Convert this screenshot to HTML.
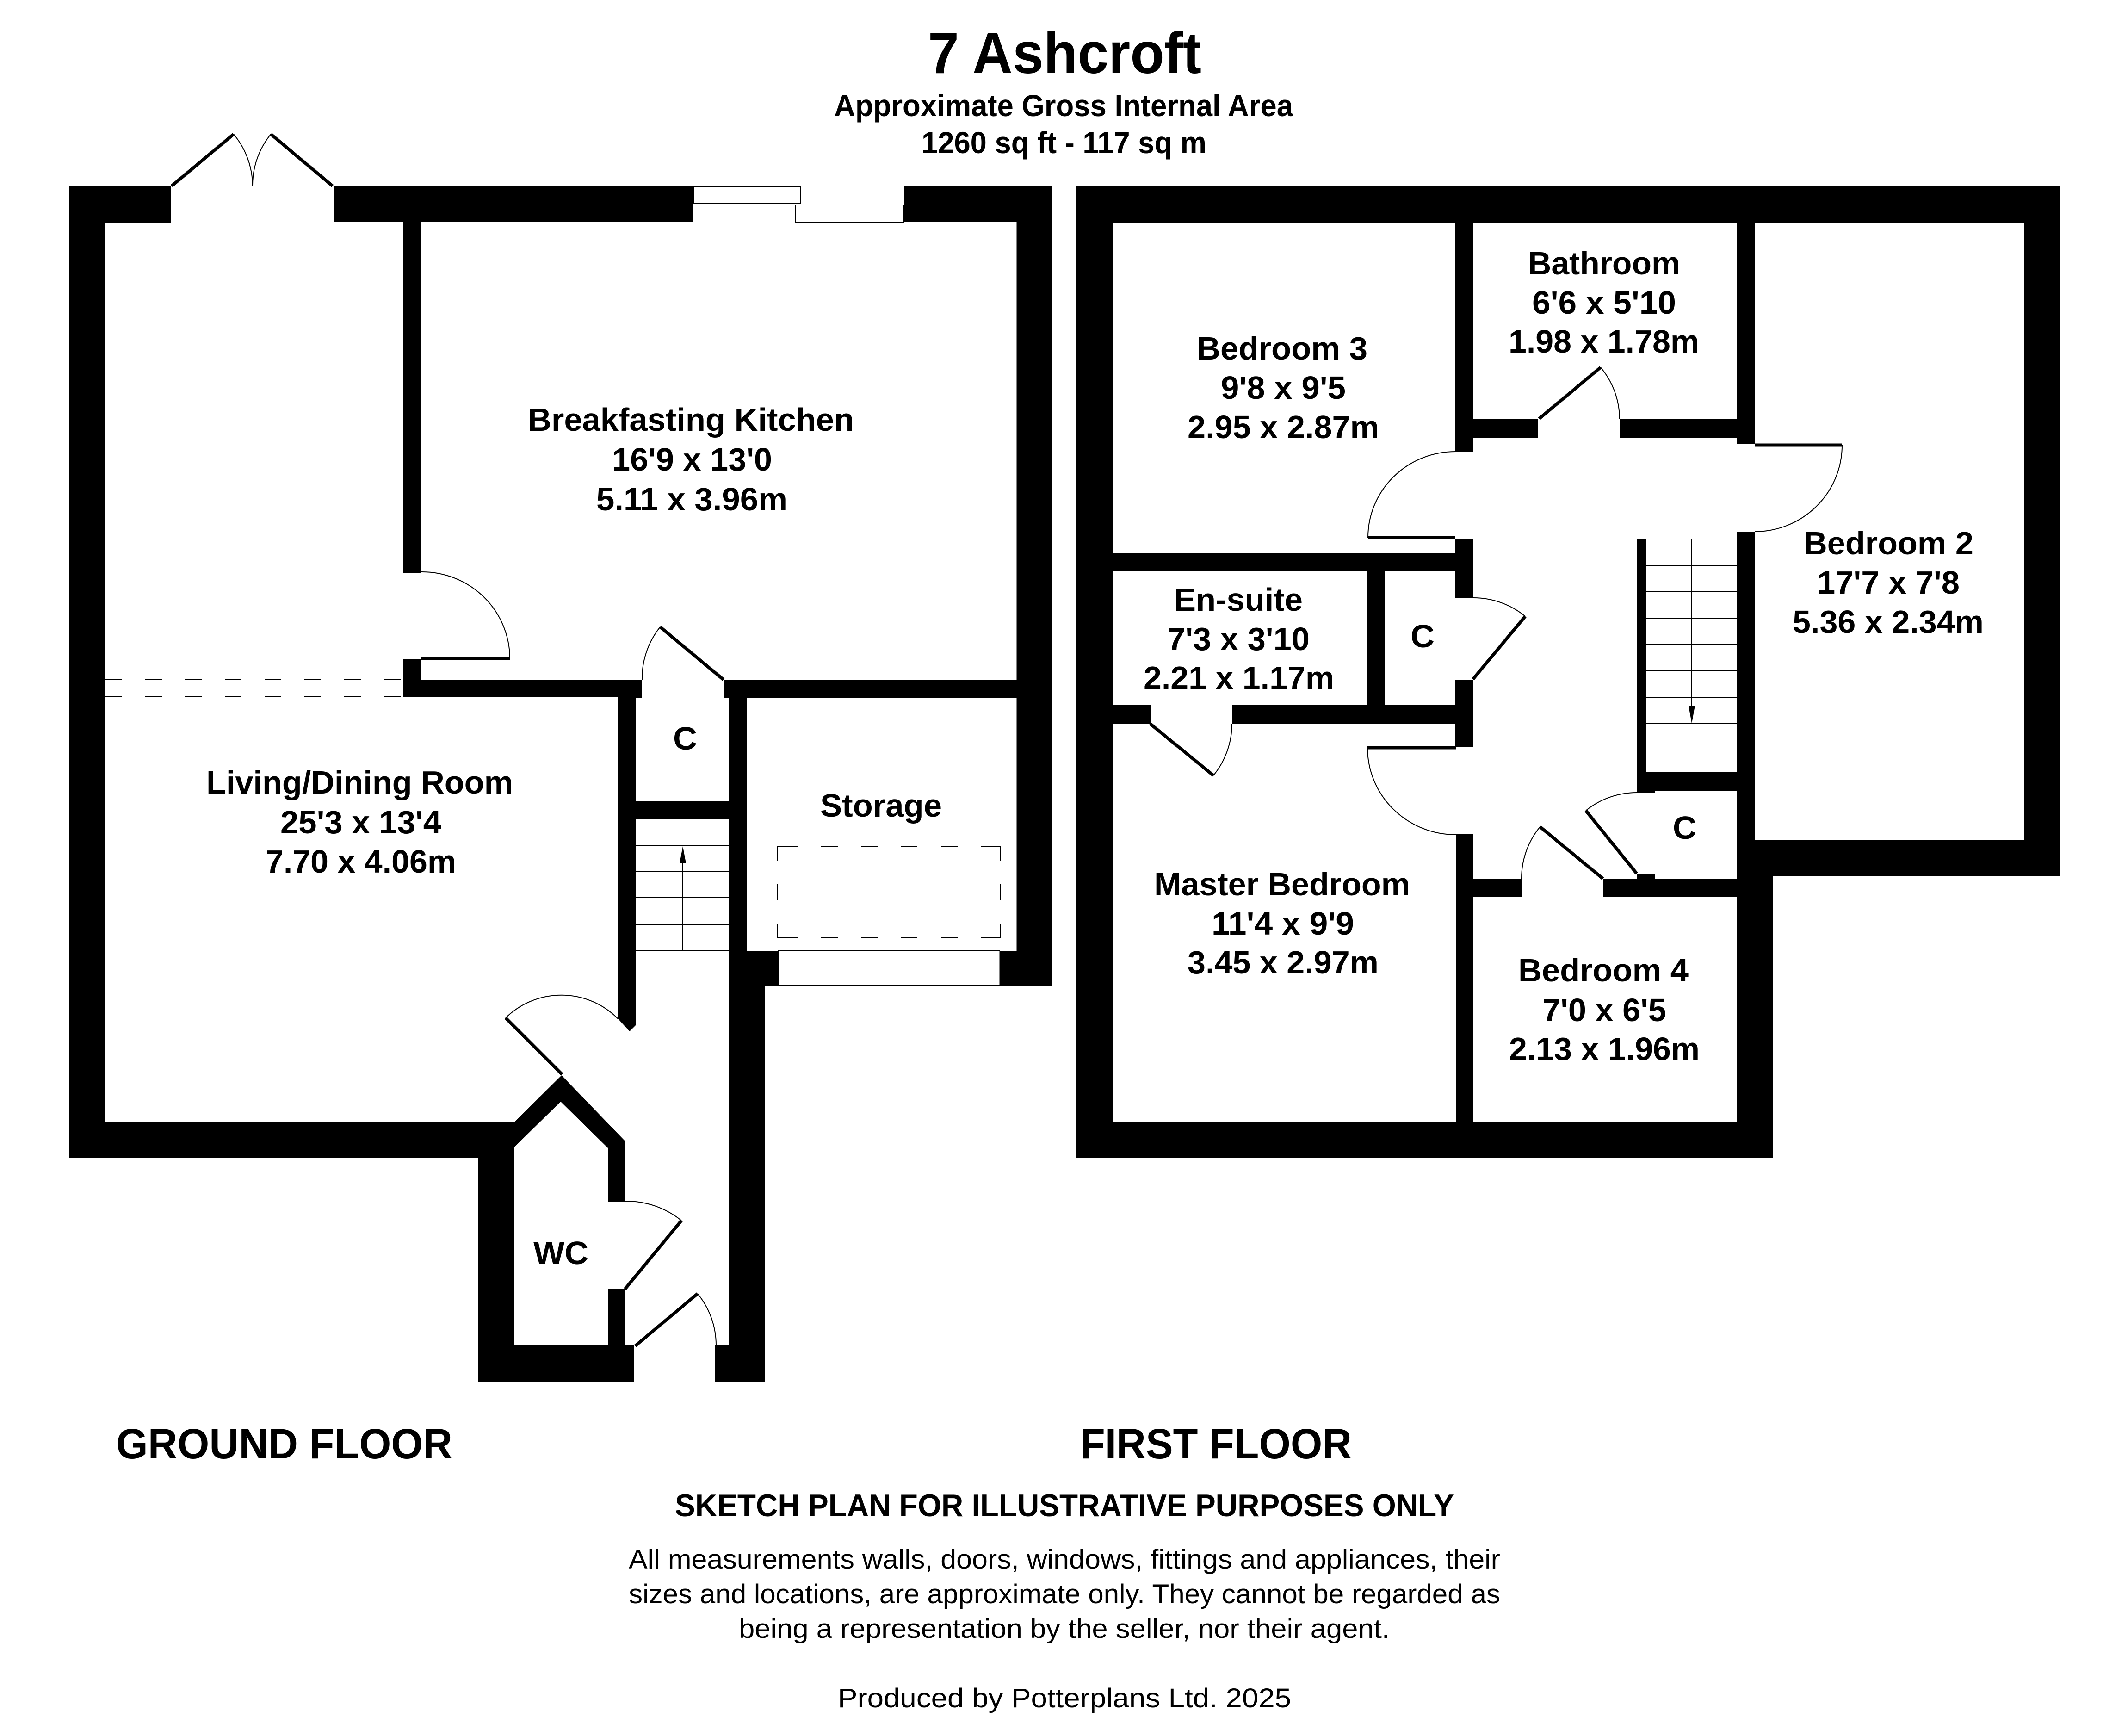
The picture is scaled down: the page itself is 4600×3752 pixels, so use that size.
<!DOCTYPE html>
<html>
<head>
<meta charset="utf-8">
<title>7 Ashcroft</title>
<style>
html,body{margin:0;padding:0;background:#fff;}
svg{display:block;}
text{font-family:"Liberation Sans",sans-serif;font-weight:bold;fill:#000;}
.r{font-size:70px;}
.n{font-weight:normal;font-size:58px;}
.l{fill:none;stroke:#000;stroke-width:2;}
.a{fill:none;stroke:#000;stroke-width:2;}
.d{fill:none;stroke:#000;stroke-width:7;}
.h{fill:none;stroke:#000;stroke-width:2;stroke-dasharray:36 50;}
</style>
</head>
<body>
<svg xmlns="http://www.w3.org/2000/svg" width="4600" height="3752" viewBox="0 0 4600 3752">
<rect width="4600" height="3752" fill="#fff"/>

<!-- GROUND FLOOR WALLS -->
<g fill="#000">
<rect x="149" y="402" width="79" height="2100"/>
<rect x="149" y="402" width="220" height="79"/>
<rect x="722" y="402" width="777" height="78"/>
<rect x="1954" y="402" width="320" height="78"/>
<rect x="2197.5" y="402" width="76.5" height="1729"/>
<rect x="2162" y="2055" width="112" height="77"/>
<rect x="871" y="480" width="40" height="758"/>
<rect x="871" y="1425" width="40" height="81"/>
<rect x="871" y="1469" width="517" height="37"/>
<rect x="1375" y="1469" width="13" height="39"/>
<rect x="1564" y="1469" width="634" height="39"/>
<polygon points="1335,1500 1375,1500 1375,2215 1361,2229 1336,2202"/>
<rect x="1375" y="1731" width="201" height="40"/>
<rect x="1576" y="1469" width="39" height="586"/>
<rect x="1576" y="2055" width="106" height="77"/>
<rect x="1576" y="2131" width="77" height="855"/>
<rect x="1546" y="2907" width="107" height="79"/>
<rect x="228" y="2425" width="884" height="77"/>
<polygon points="1034,2502 1034,2986 1370,2986 1370,2907 1351,2907 1351,2786 1314,2786 1314,2907 1112,2907 1112,2479 1212,2381 1314,2481 1314,2598 1351,2598 1351,2466 1214,2324 1112,2425 1034,2425"/>
</g>

<!-- GROUND FLOOR WINDOWS -->
<rect class="l" x="1499" y="403" width="232" height="36"/>
<rect class="l" x="1719" y="443" width="235" height="37"/>
<line class="l" x1="1682" y1="2055" x2="2162" y2="2055"/>
<line x1="1653" y1="2130.5" x2="2162" y2="2130.5" stroke="#000" stroke-width="3"/>
<line class="l" x1="1682.5" y1="2055" x2="1682.5" y2="2131"/>
<line class="l" x1="2161.5" y1="2055" x2="2161.5" y2="2131"/>

<!-- GROUND FLOOR DOORS -->
<line class="d" x1="371" y1="402" x2="505" y2="290"/>
<path class="a" d="M505,290 A175,175 0 0 1 546,402"/>
<line class="d" x1="719" y1="402" x2="585.5" y2="290"/>
<path class="a" d="M585.5,290 A175,175 0 0 0 546,402"/>
<line class="d" x1="911" y1="1423" x2="1102" y2="1423"/>
<path class="a" d="M911,1236 A190,187 0 0 1 1102,1423"/>
<line class="d" x1="1564" y1="1469" x2="1427" y2="1355"/>
<path class="a" d="M1427,1355 A178,178 0 0 0 1388,1469"/>
<line class="d" x1="1215" y1="2322" x2="1093" y2="2200"/>
<path class="a" d="M1093,2200 A172,172 0 0 1 1336,2202"/>
<line class="d" x1="1351" y1="2786" x2="1473" y2="2638"/>
<path class="a" d="M1473,2638 A190,190 0 0 0 1351,2596"/>
<line class="d" x1="1373" y1="2909" x2="1508" y2="2796"/>
<path class="a" d="M1508,2796 A176,176 0 0 1 1548,2907"/>

<!-- GROUND FLOOR DASHES -->
<line class="h" x1="228" y1="1469" x2="871" y2="1469"/>
<line class="h" x1="228" y1="1506" x2="871" y2="1506"/>
<path class="l" d="M1724,1830 H1681 V1860 M1775,1830 H1811 M1861,1830 H1897 M1947,1830 H1983 M2034,1830 H2070 M2120,1830 H2163 V1860 M1681,1911 V1946 M2163,1911 V1946 M1681,1997 V2027 H1724 M1775,2027 H1811 M1861,2027 H1897 M1947,2027 H1983 M2034,2027 H2070 M2120,2027 H2163 V1997"/>

<!-- GROUND FLOOR STAIRS -->
<g class="l">
<line class="l" x1="1375" y1="1827" x2="1576" y2="1827"/>
<line class="l" x1="1375" y1="1884" x2="1576" y2="1884"/>
<line class="l" x1="1375" y1="1940" x2="1576" y2="1940"/>
<line class="l" x1="1375" y1="1998" x2="1576" y2="1998"/>
<line class="l" x1="1375" y1="2055" x2="1576" y2="2055"/>
<line class="l" x1="1476" y1="2055" x2="1476" y2="1840"/>
</g>
<polygon points="1476,1829 1469,1866 1483,1866" fill="#000"/>

<!-- FIRST FLOOR WALLS -->
<g fill="#000">
<rect x="2326" y="402" width="2127" height="79"/>
<rect x="2326" y="402" width="79" height="2100"/>
<rect x="2326" y="2425" width="1506" height="77"/>
<rect x="4375.5" y="402" width="77.5" height="1492"/>
<rect x="3754" y="1816" width="699" height="78"/>
<rect x="3754" y="1816" width="78" height="686"/>
<rect x="3755" y="402" width="38" height="558"/>
<rect x="3754" y="1149" width="39" height="750"/>
<rect x="3146" y="402" width="38.5" height="574"/>
<rect x="3184" y="905" width="140" height="41"/>
<rect x="3501" y="905" width="254" height="41"/>
<rect x="2405" y="1195" width="741" height="39"/>
<rect x="2956" y="1234" width="38" height="290"/>
<rect x="2405" y="1524" width="82" height="40"/>
<rect x="2663" y="1524" width="483" height="40"/>
<rect x="3146" y="1165" width="38" height="127"/>
<rect x="3146" y="1469" width="38" height="146"/>
<rect x="3147" y="1803" width="37" height="622"/>
<rect x="3184" y="1899" width="105" height="39"/>
<rect x="3465" y="1899" width="289" height="39"/>
<rect x="3539" y="1164" width="20" height="549"/>
<rect x="3539" y="1669" width="215" height="40"/>
<rect x="3539" y="1709" width="38" height="4"/>
<rect x="3539" y="1890" width="38" height="9"/>
</g>

<!-- FIRST FLOOR DOORS -->
<line class="d" x1="3146" y1="1162" x2="2957" y2="1162"/>
<path class="a" d="M2957,1162 A189,186 0 0 1 3146,976"/>
<line class="d" x1="3327" y1="905" x2="3460" y2="794"/>
<path class="a" d="M3460,794 A174,174 0 0 1 3501,905"/>
<line class="d" x1="3793" y1="962" x2="3982" y2="962"/>
<path class="a" d="M3982,962 A189,187 0 0 1 3793,1149"/>
<line class="d" x1="3184" y1="1468" x2="3297" y2="1332"/>
<path class="a" d="M3297,1332 A177,177 0 0 0 3184,1292"/>
<line class="d" x1="2486" y1="1564" x2="2623" y2="1676"/>
<path class="a" d="M2623,1676 A177,177 0 0 0 2663,1564"/>
<line class="d" x1="3147" y1="1616" x2="2956" y2="1616"/>
<path class="a" d="M2956,1616 A191,188 0 0 0 3147,1804"/>
<line class="d" x1="3465" y1="1899" x2="3329" y2="1787"/>
<path class="a" d="M3329,1787 A176,176 0 0 0 3289,1899"/>
<line class="d" x1="3538" y1="1888" x2="3428" y2="1752"/>
<path class="a" d="M3428,1752 A175,175 0 0 1 3540,1713"/>

<!-- FIRST FLOOR STAIRS -->
<line class="l" x1="3558" y1="1222" x2="3755" y2="1222"/>
<line class="l" x1="3558" y1="1279" x2="3755" y2="1279"/>
<line class="l" x1="3558" y1="1336" x2="3755" y2="1336"/>
<line class="l" x1="3558" y1="1393" x2="3755" y2="1393"/>
<line class="l" x1="3558" y1="1450" x2="3755" y2="1450"/>
<line class="l" x1="3558" y1="1507" x2="3755" y2="1507"/>
<line class="l" x1="3558" y1="1564" x2="3755" y2="1564"/>
<line class="l" x1="3657" y1="1164" x2="3657" y2="1540"/>
<polygon points="3657,1564 3650,1525 3664,1525" fill="#000"/>

<!-- TITLE -->
<text x="2006" y="158" font-size="125" textLength="591" lengthAdjust="spacingAndGlyphs">7 Ashcroft</text>
<text x="1803" y="251" font-size="66" textLength="992" lengthAdjust="spacingAndGlyphs">Approximate Gross Internal Area</text>
<text x="1992" y="331" font-size="66" textLength="616" lengthAdjust="spacingAndGlyphs">1260 sq ft - 117 sq m</text>

<!-- GROUND LABELS -->
<text class="r" x="1141" y="931" textLength="705" lengthAdjust="spacingAndGlyphs">Breakfasting Kitchen</text>
<text class="r" x="1323" y="1017" textLength="346" lengthAdjust="spacingAndGlyphs">16'9 x 13'0</text>
<text class="r" x="1289" y="1103" textLength="413" lengthAdjust="spacingAndGlyphs">5.11 x 3.96m</text>
<text class="r" x="446" y="1715" textLength="663" lengthAdjust="spacingAndGlyphs">Living/Dining Room</text>
<text class="r" x="606" y="1801" textLength="348" lengthAdjust="spacingAndGlyphs">25'3 x 13'4</text>
<text class="r" x="574" y="1886" textLength="412" lengthAdjust="spacingAndGlyphs">7.70 x 4.06m</text>
<text class="r" x="1455" y="1620" textLength="52" lengthAdjust="spacingAndGlyphs">C</text>
<text class="r" x="1773" y="1765" textLength="263" lengthAdjust="spacingAndGlyphs">Storage</text>
<text class="r" x="1153" y="2732" textLength="119" lengthAdjust="spacingAndGlyphs">WC</text>

<!-- FIRST LABELS -->
<text class="r" x="3303" y="593" textLength="329" lengthAdjust="spacingAndGlyphs">Bathroom</text>
<text class="r" x="3312" y="678" textLength="311" lengthAdjust="spacingAndGlyphs">6'6 x 5'10</text>
<text class="r" x="3261" y="762" textLength="412" lengthAdjust="spacingAndGlyphs">1.98 x 1.78m</text>
<text class="r" x="2587" y="777" textLength="369" lengthAdjust="spacingAndGlyphs">Bedroom 3</text>
<text class="r" x="2639" y="862" textLength="270" lengthAdjust="spacingAndGlyphs">9'8 x 9'5</text>
<text class="r" x="2567" y="947" textLength="414" lengthAdjust="spacingAndGlyphs">2.95 x 2.87m</text>
<text class="r" x="3899" y="1198" textLength="367" lengthAdjust="spacingAndGlyphs">Bedroom 2</text>
<text class="r" x="3928" y="1283" textLength="308" lengthAdjust="spacingAndGlyphs">17'7 x 7'8</text>
<text class="r" x="3875" y="1368" textLength="413" lengthAdjust="spacingAndGlyphs">5.36 x 2.34m</text>
<text class="r" x="2538" y="1320" textLength="278" lengthAdjust="spacingAndGlyphs">En-suite</text>
<text class="r" x="2523" y="1405" textLength="308" lengthAdjust="spacingAndGlyphs">7'3 x 3'10</text>
<text class="r" x="2472" y="1489" textLength="412" lengthAdjust="spacingAndGlyphs">2.21 x 1.17m</text>
<text class="r" x="3049" y="1399" textLength="52" lengthAdjust="spacingAndGlyphs">C</text>
<text class="r" x="3616" y="1813" textLength="51" lengthAdjust="spacingAndGlyphs">C</text>
<text class="r" x="2495" y="1935" textLength="553" lengthAdjust="spacingAndGlyphs">Master Bedroom</text>
<text class="r" x="2619" y="2020" textLength="308" lengthAdjust="spacingAndGlyphs">11'4 x 9'9</text>
<text class="r" x="2567" y="2104" textLength="413" lengthAdjust="spacingAndGlyphs">3.45 x 2.97m</text>
<text class="r" x="3282" y="2121" textLength="368" lengthAdjust="spacingAndGlyphs">Bedroom 4</text>
<text class="r" x="3334" y="2207" textLength="268" lengthAdjust="spacingAndGlyphs">7'0 x 6'5</text>
<text class="r" x="3262" y="2291" textLength="412" lengthAdjust="spacingAndGlyphs">2.13 x 1.96m</text>

<!-- FOOTER -->
<text x="251" y="3152" font-size="92" textLength="727" lengthAdjust="spacingAndGlyphs">GROUND FLOOR</text>
<text x="2335" y="3152" font-size="92" textLength="587" lengthAdjust="spacingAndGlyphs">FIRST FLOOR</text>
<text x="1459" y="3277" font-size="68" textLength="1684" lengthAdjust="spacingAndGlyphs">SKETCH PLAN FOR ILLUSTRATIVE PURPOSES ONLY</text>
<text class="n" x="1359" y="3390" textLength="1884" lengthAdjust="spacingAndGlyphs">All measurements walls, doors, windows, fittings and appliances, their</text>
<text class="n" x="1359" y="3465" textLength="1884" lengthAdjust="spacingAndGlyphs">sizes and locations, are approximate only. They cannot be regarded as</text>
<text class="n" x="1597" y="3540" textLength="1407" lengthAdjust="spacingAndGlyphs">being a representation by the seller, nor their agent.</text>
<text class="n" x="1811" y="3690" textLength="980" lengthAdjust="spacingAndGlyphs">Produced by Potterplans Ltd. 2025</text>
</svg>
</body>
</html>
